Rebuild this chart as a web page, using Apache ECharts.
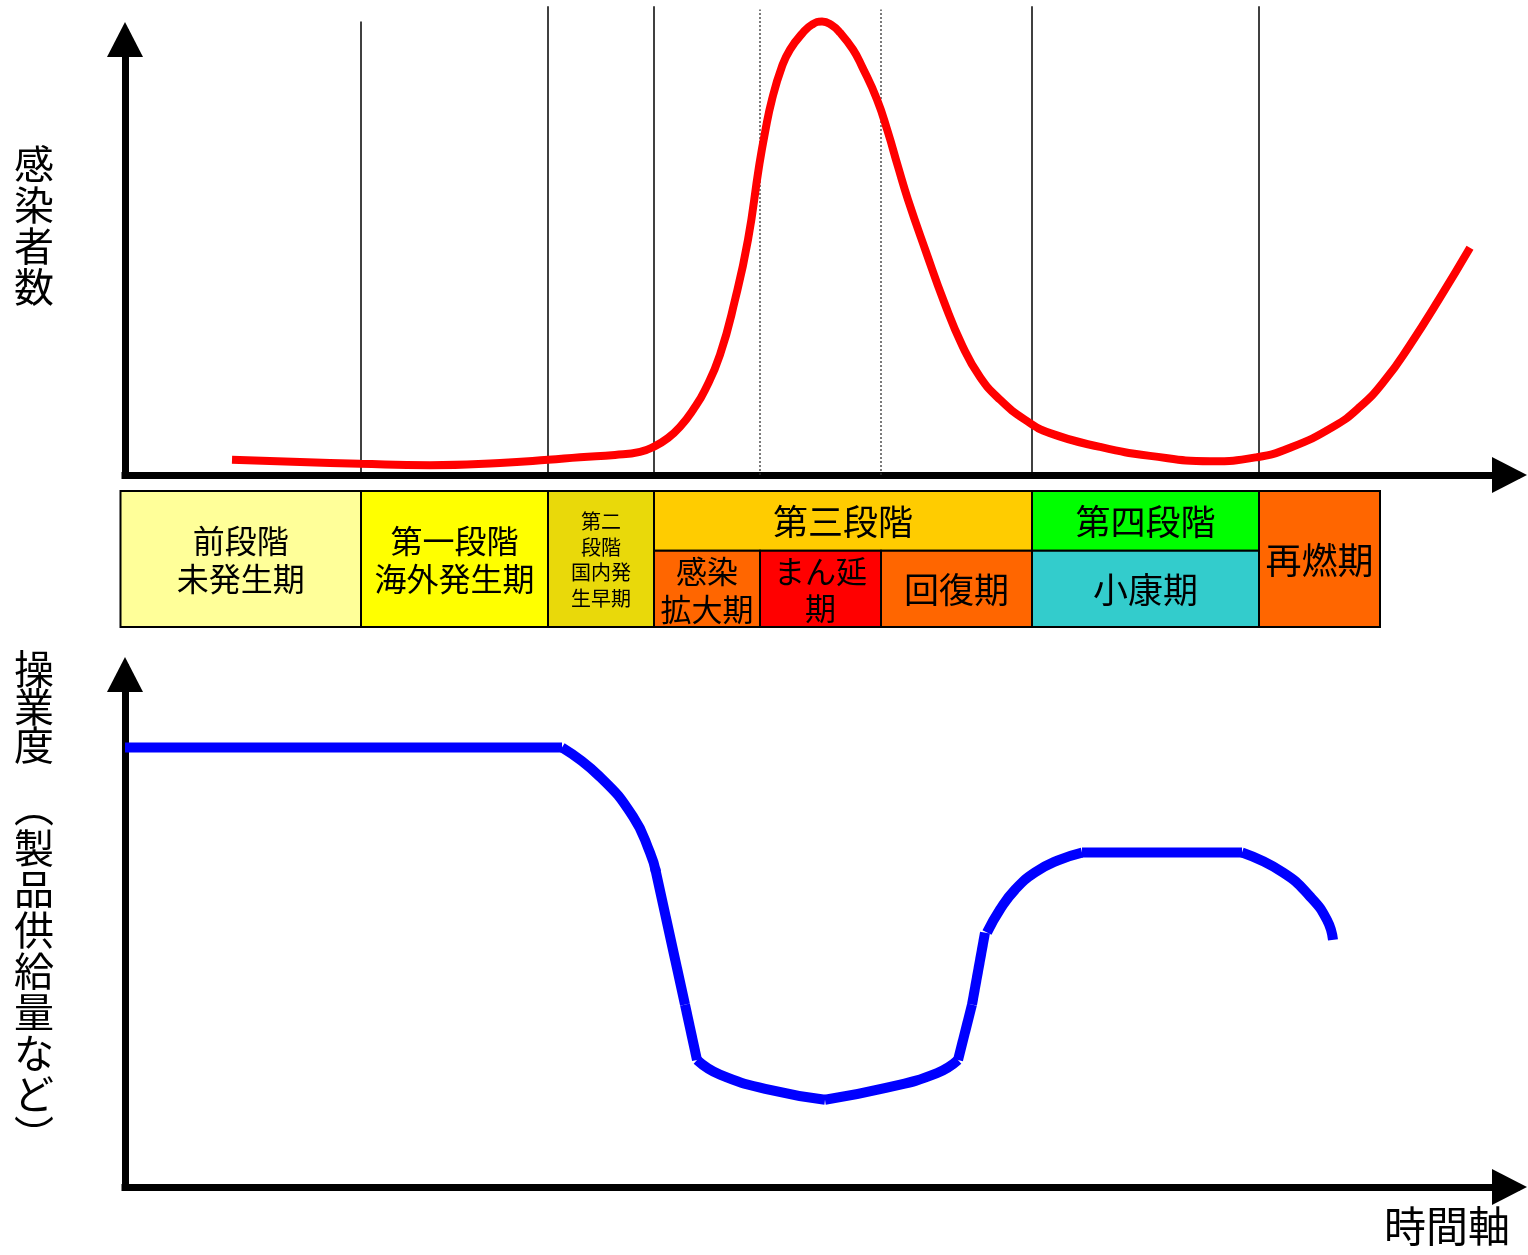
<!DOCTYPE html>
<html>
<head>
<meta charset="utf-8">
<script src="https://cdn.jsdelivr.net/npm/echarts@6/dist/echarts.min.js"></script>
<style>
  html, body { margin: 0; padding: 0; background: #fff; }
  #main { width: 1528px; height: 1255px; }
</style>
</head>
<body>
<div id="main"></div>
<script>
const FONT = '"Noto Sans CJK JP", "Noto Sans", sans-serif';

// Time axis (arbitrary units) shared by all three panels
const TIME_MIN = -0.35;
const TIME_MAX = 139.45;

// Infection count over time: [time, level]
const infectionCurve = [
  [10.7, 3.4], [17.5, 2.9], [23.5, 2.5], [30.5, 2.2], [37.5, 2.7], [42.3, 3.4],
  [45.5, 4.0], [49.0, 4.5], [51.5, 5.2], [53.0, 6.5], [54.3, 8.3], [55.5, 10.8],
  [56.8, 14.6], [58.0, 19.1], [59.5, 27.0], [61.0, 39.3], [62.3, 52.8], [63.4, 69.2],
  [64.0, 76.9], [64.7, 84.3], [65.7, 91.7], [66.5, 95.5], [67.8, 99.3], [68.7, 101.1],
  [69.7, 101.8], [70.6, 101.1], [71.5, 99.3], [72.8, 95.5], [73.7, 91.7], [75.2, 84.3],
  [76.3, 76.9], [77.3, 69.2], [78.3, 61.8], [80.1, 50.1], [81.9, 38.9], [83.7, 29.2],
  [85.5, 22.0], [87.5, 16.9], [90.0, 12.4], [92.5, 9.4], [97.5, 6.3], [102.5, 4.3],
  [108.5, 3.1], [113.2, 4.0], [116.5, 6.1], [120.8, 10.8], [123.5, 15.3], [126.0, 21.3],
  [128.5, 29.2], [131.5, 39.8], [134.5, 51.0]
];

// Phase boundaries on the time axis
const phaseBounds = [-0.45, 23.6, 42.3, 52.9, 63.5, 75.6, 90.7, 113.4, 125.5];

// Guide lines in the infection panel: [time, top level]
const solidGuides = [[23.6, 101.8], [42.3, 105.2], [52.9, 105.2], [90.7, 105.2], [113.4, 105.2]];
const dottedGuides = [[63.5, 104.5], [75.6, 104.5]];

// Phase cells: [first boundary, last boundary, row, label]
const phaseCells = [
  [0, 1, 'full',  '前段階\n未発生期'],
  [1, 2, 'full',  '第一段階\n海外発生期'],
  [2, 3, 'full',  '第二\n段階\n国内発\n生早期'],
  [3, 6, 'upper', '第三段階'],
  [3, 4, 'lower', '感染\n拡大期'],
  [4, 5, 'lower', 'まん延\n期'],
  [5, 6, 'lower', '回復期'],
  [6, 7, 'upper', '第四段階'],
  [6, 7, 'lower', '小康期'],
  [7, 8, 'full',  '再燃期']
];

// Operation level (product supply etc.) over time, drawn as joined strokes
const opFlatStart = [[0, 84.1], [43.7, 84.1]];
const opDecline   = [[43.7, 84.1], [47.5, 78.5], [50.8, 70.9], [52.5, 64.0], [53.1, 60.3]];
const opDropA     = [[53.0, 61.1], [56.0, 34.9]];
const opDropB     = [[56.0, 34.9], [57.2, 24.3]];
const opTroughL   = [[57.2, 24.3], [59.5, 21.5], [64.5, 18.6], [70.0, 16.7]];
const opTroughR   = [[70.0, 16.7], [76.2, 19.0], [81.2, 21.8], [83.3, 24.3]];
const opRiseA     = [[83.3, 24.3], [84.7, 34.9]];
const opRiseB     = [[84.7, 34.9], [86.0, 48.7]];
const opRecovery  = [[86.2, 48.7], [87.5, 53.1], [89.0, 56.9], [91.0, 60.2], [93.3, 62.5], [95.7, 64.0]];
const opPlateau   = [[95.7, 64.0], [111.7, 64.0]];
const opRelapse   = [[111.7, 64.0], [115.8, 60.2], [118.5, 55.6], [120.2, 51.1], [120.8, 47.3]];

// ---- styling ----
const cellColors = ['#FFFF99', '#FFFF00', '#E9D90A', '#FFCC00', '#FF6600', '#FF0000', '#FF6600', '#00FF00', '#33CCCC', '#FF6600'];
const cellFont = [
  [32, 38], [32, 38], [20, 25.5], [35, 40], [31, 38], [31, 37], [35, 40], [35, 40], [35, 40], [36, 40]
];
const rowSpan = { full: [0, 1], upper: [0.56, 1], lower: [0, 0.56] };

const arrowAxisLine = {
  show: true,
  onZero: true,
  symbol: ['none', 'triangle'],
  symbolSize: [36, 35],
  symbolOffset: [0, -10],
  lineStyle: { color: '#000', width: 7, cap: 'butt' }
};
const hiddenParts = { axisTick: { show: false }, axisLabel: { show: false }, splitLine: { show: false } };

const grids = [
  { left: 121.5, right: 8.5, top: 29.5, bottom: 780 },
  { left: 121.5, right: 8.5, top: 491, bottom: 628 },
  { left: 121.5, right: 8.5, top: 664.5, bottom: 68 }
];

function timeAxis(gridIndex, showLine) {
  return Object.assign({
    type: 'value', gridIndex, min: TIME_MIN, max: TIME_MAX,
    axisLine: showLine ? arrowAxisLine : { show: false }
  }, hiddenParts);
}
function levelAxis(gridIndex, showLine, max) {
  return Object.assign({
    type: 'value', gridIndex, min: 0, max,
    axisLine: showLine ? arrowAxisLine : { show: false }
  }, hiddenParts);
}

function guideSeries(data, dashed) {
  return {
    type: 'custom', xAxisIndex: 0, yAxisIndex: 0, clip: false, silent: true,
    data,
    renderItem(params, api) {
      const a = api.coord([api.value(0), 0]);
      const b = api.coord([api.value(0), api.value(1)]);
      return {
        type: 'line',
        shape: { x1: a[0], y1: a[1], x2: b[0], y2: b[1] },
        style: dashed
          ? { stroke: '#333', lineWidth: 1.3, lineDash: [2, 2] }
          : { stroke: '#000', lineWidth: 1.5 }
      };
    },
    z: 1
  };
}

const cellData = phaseCells.map((c, i) => {
  const span = rowSpan[c[2]];
  return { value: [phaseBounds[c[0]], phaseBounds[c[1]], span[0], span[1], i], label: c[3] };
});

const cellSeries = {
  type: 'custom', xAxisIndex: 1, yAxisIndex: 1, clip: false, silent: true,
  data: cellData,
  renderItem(params, api) {
    const i = api.value(4);
    const tl = api.coord([api.value(0), api.value(3)]);
    const br = api.coord([api.value(1), api.value(2)]);
    const f = cellFont[i];
    return {
      type: 'group',
      children: [
        {
          type: 'rect',
          shape: { x: tl[0], y: tl[1], width: br[0] - tl[0], height: br[1] - tl[1] },
          style: { fill: cellColors[i], stroke: '#000', lineWidth: 2 }
        },
        {
          type: 'text',
          x: (tl[0] + br[0]) / 2,
          y: (tl[1] + br[1]) / 2 + 1,
          style: {
            text: phaseCells[i][3],
            fill: '#000',
            fontSize: f[0],
            fontFamily: FONT,
            lineHeight: f[1],
            align: 'center',
            verticalAlign: 'middle'
          }
        }
      ]
    };
  }
};

function opSeries(data, smooth) {
  return {
    type: 'line', xAxisIndex: 2, yAxisIndex: 2, data,
    showSymbol: false, symbol: 'none', clip: false, silent: true,
    smooth: smooth ? 0.5 : false,
    lineStyle: { color: '#0000FF', width: 10, cap: 'butt', join: 'miter' },
    z: 3
  };
}

function verticalLabel(text, x, top, lineHeight) {
  return {
    type: 'text', x, y: top,
    style: {
      text: text.split('').join('\n'), fill: '#000', fontSize: 40, fontFamily: FONT,
      lineHeight, align: 'center', verticalAlign: 'top'
    }
  };
}

const option = {
  animation: false,
  backgroundColor: '#fff',
  textStyle: { fontFamily: FONT },
  grid: grids,
  xAxis: [timeAxis(0, true), timeAxis(1, false), timeAxis(2, true)],
  yAxis: [levelAxis(0, true, 100), levelAxis(1, false, 1), levelAxis(2, true, 100)],
  series: [
    guideSeries(solidGuides, false),
    guideSeries(dottedGuides, true),
    {
      type: 'line', xAxisIndex: 0, yAxisIndex: 0, data: infectionCurve,
      showSymbol: false, symbol: 'none', clip: false, silent: true,
      smooth: 0.5,
      lineStyle: { color: '#FF0000', width: 8 },
      z: 3
    },
    cellSeries,
    opSeries(opFlatStart, false),
    opSeries(opDecline, true),
    opSeries(opDropA, false),
    opSeries(opDropB, false),
    opSeries(opTroughL, true),
    opSeries(opTroughR, true),
    opSeries(opRiseA, false),
    opSeries(opRiseB, false),
    opSeries(opRecovery, true),
    opSeries(opPlateau, false),
    opSeries(opRelapse, true)
  ],
  graphic: [
    verticalLabel('感染者数', 34, 143, 41),
    verticalLabel('操業度', 34, 650, 38),
    verticalLabel('︵製品供給量など︶', 34, 786, 41),
    {
      type: 'text', x: 1447, y: 1226,
      style: {
        text: '時間軸', fill: '#000', fontSize: 42, fontFamily: FONT,
        align: 'center', verticalAlign: 'middle'
      }
    }
  ]
};

const chart = echarts.init(document.getElementById('main'), null, { renderer: 'canvas' });
chart.setOption(option);
</script>
</body>
</html>
